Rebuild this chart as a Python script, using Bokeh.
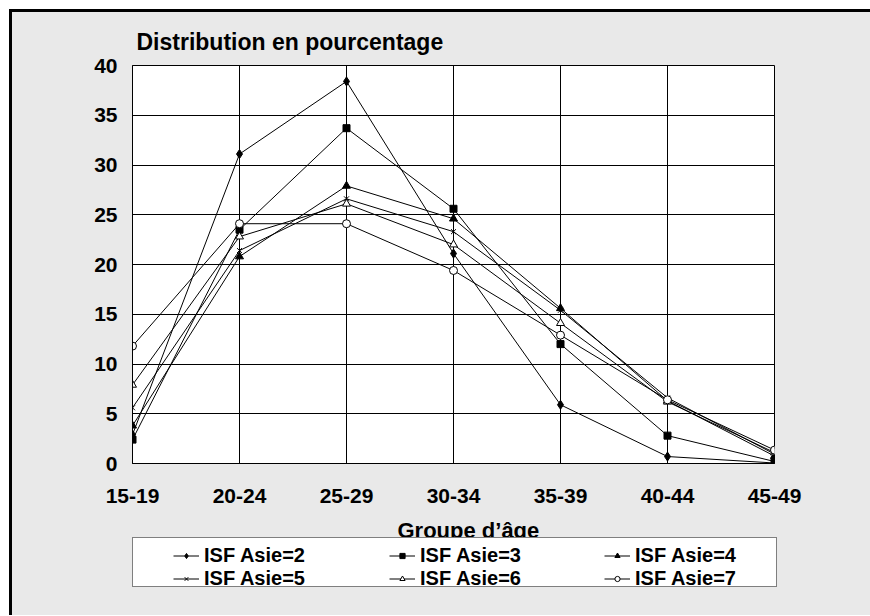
from bokeh.plotting import figure
from bokeh.layouts import column
from bokeh.models import FixedTicker, Legend, LegendItem, Label, Range1d, Title
from bokeh.embed import file_html
from bokeh.resources import INLINE

# ---- data ----
categories = ["15-19", "20-24", "25-29", "30-34", "35-39", "40-44", "45-49"]
isf2 = [2.9, 31.1, 38.4, 21.1, 5.9, 0.7, 0.05]
isf3 = [2.4, 23.5, 33.7, 25.6, 12.0, 2.8, 0.2]
isf4 = [3.8, 20.8, 27.9, 24.6, 15.6, 6.3, 0.75]
isf5 = [5.6, 21.4, 26.6, 23.3, 15.4, 6.6, 0.95]
isf6 = [7.9, 22.8, 26.1, 22.0, 14.1, 6.2, 1.1]
isf7 = [11.8, 24.1, 24.1, 19.4, 12.9, 6.4, 1.35]
series_names = ["ISF Asie=2", "ISF Asie=3", "ISF Asie=4",
                "ISF Asie=5", "ISF Asie=6", "ISF Asie=7"]
y_ticks = [0, 5, 10, 15, 20, 25, 30, 35, 40]
title_text = "Distribution en pourcentage"
xlabel_text = "Groupe d\u2019\u00e2ge"

FONT = "Liberation Sans"
BG = "#E9E9E9"
W = 858

xs = list(range(len(categories)))
all_series = [isf2, isf3, isf4, isf5, isf6, isf7]
markers = ["diamond", "square", "triangle", "x", "triangle", "circle"]
fills = ["black", "black", "black", "black", "white", "white"]
sizes = [9, 7, 8, 7, 8, 8]

# ---------------- main chart ----------------
p = figure(width=W, height=502, output_backend="svg", toolbar_location=None,
           x_range=Range1d(0, len(categories) - 1), y_range=Range1d(0, 40),
           min_border_left=120, min_border_right=W - 120 - 642,
           min_border_top=53, min_border_bottom=51,
           background_fill_color="white", border_fill_color=BG,
           outline_line_color="black", outline_line_width=1)
p.frame_align = False

p.add_layout(Title(text=title_text, align="left", offset=4, standoff=22,
                   text_font=FONT, text_font_style="bold", text_font_size="23px",
                   text_color="black"), "above")

p.xaxis.ticker = FixedTicker(ticks=xs)
p.xaxis.major_label_overrides = {i: c for i, c in enumerate(categories)}
p.yaxis.ticker = FixedTicker(ticks=y_ticks)
for ax in (p.xaxis[0], p.yaxis[0]):
    ax.major_tick_out = 0
    ax.major_tick_in = 0
    ax.minor_tick_out = 0
    ax.minor_tick_in = 0
    ax.axis_line_color = "black"
    ax.major_label_text_font = FONT
    ax.major_label_text_font_style = "bold"
    ax.major_label_text_font_size = "21px"
    ax.major_label_text_color = "black"
p.yaxis.major_label_standoff = 15
p.xaxis.major_label_standoff = 25

for g in (p.xgrid[0], p.ygrid[0]):
    g.grid_line_color = "black"
    g.grid_line_width = 1
    g.grid_line_alpha = 1
p.xgrid.ticker = FixedTicker(ticks=xs)
p.ygrid.ticker = FixedTicker(ticks=y_ticks)

for vals, mk, fc, sz in zip(all_series, markers, fills, sizes):
    p.line(xs, vals, line_color="black", line_width=1)
    p.scatter(xs, vals, marker=mk, size=sz, fill_color=fc,
              line_color="black", line_width=1)

# ---------------- lower strip: axis title + legend ----------------
H2 = 101
q = figure(width=W, height=H2, output_backend="svg", toolbar_location=None,
           x_range=Range1d(0, W), y_range=Range1d(0, H2),
           x_axis_type=None, y_axis_type=None,
           min_border_left=0, min_border_right=0, min_border_top=0,
           min_border_bottom=0,
           background_fill_color=BG, border_fill_color=BG,
           outline_line_color=None)
q.frame_align = False
q.grid.visible = False
q.extra_y_ranges = {"hidden": Range1d(1000, 1001)}

items = []
for vals, mk, fc, name in zip(all_series, markers, fills, series_names):
    l = q.line(xs, vals, line_color="black", line_width=1, y_range_name="hidden")
    s = q.scatter(xs, vals, marker=mk, size=6, fill_color=fc, line_color="black",
                  line_width=1, y_range_name="hidden")
    items.append(LegendItem(label=name, renderers=[l, s]))

dummy = q.scatter([0], [0], size=1, alpha=0, y_range_name="hidden")
box = Legend(items=[LegendItem(label=" ", renderers=[dummy])],
             location=(120, 28), orientation="vertical",
             padding=0, margin=0, spacing=0,
             glyph_width=1, glyph_height=48, label_width=642, label_height=48,
             label_standoff=0,
             background_fill_color="white", background_fill_alpha=1,
             border_line_color="black", border_line_width=1)
q.add_layout(box)

col_x = [161, 377, 592]
for ci in range(3):
    leg = Legend(items=[items[ci], items[ci + 3]],
                 location=(col_x[ci], 25), orientation="vertical",
                 padding=0, margin=0, spacing=0,
                 glyph_width=26, glyph_height=13, label_height=21,
                 label_standoff=5,
                 label_text_font=FONT, label_text_font_style="bold",
                 label_text_font_size="20px", label_text_color="black",
                 background_fill_alpha=0, border_line_alpha=0)
    q.add_layout(leg)

q.add_layout(Label(x=385, y=85, text=xlabel_text,
                   text_font=FONT, text_font_style="bold", text_font_size="22px",
                   text_color="black", text_align="left",
                   text_baseline="alphabetic"))

layout = column(p, q, spacing=0,
                styles={"margin-left": "9px", "margin-top": "9px",
                        "box-sizing": "content-box",
                        "background-color": BG,
                        "border-left": "3px solid black",
                        "border-top": "3px solid black"})

open("out.html", "w").write(file_html(layout, INLINE))
